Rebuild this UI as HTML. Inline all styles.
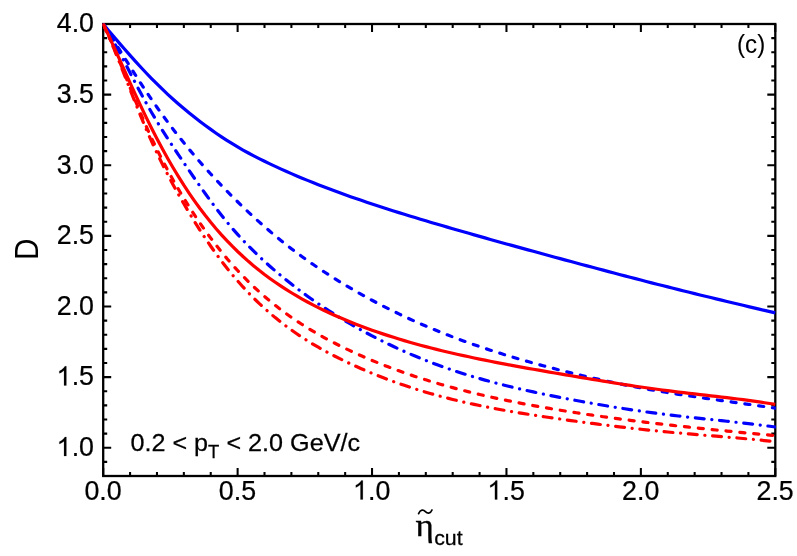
<!DOCTYPE html>
<html><head><meta charset="utf-8"><title>D vs eta cut</title>
<style>html,body{margin:0;padding:0;background:#fff;}body{width:797px;height:556px;position:relative;overflow:hidden;font-family:"Liberation Sans",sans-serif;}</style>
</head><body>
<svg width="797" height="556" viewBox="0 0 797 556" style="position:absolute;left:0;top:0;will-change:transform">
<rect width="797" height="556" fill="#fff"/>
<path d="M103.20,476.0v-8.0M103.20,24.0v8.0M130.08,476.0v-4.0M130.08,24.0v4.0M156.97,476.0v-4.0M156.97,24.0v4.0M183.85,476.0v-4.0M183.85,24.0v4.0M210.74,476.0v-4.0M210.74,24.0v4.0M237.62,476.0v-8.0M237.62,24.0v8.0M264.50,476.0v-4.0M264.50,24.0v4.0M291.39,476.0v-4.0M291.39,24.0v4.0M318.27,476.0v-4.0M318.27,24.0v4.0M345.16,476.0v-4.0M345.16,24.0v4.0M372.04,476.0v-8.0M372.04,24.0v8.0M398.92,476.0v-4.0M398.92,24.0v4.0M425.81,476.0v-4.0M425.81,24.0v4.0M452.69,476.0v-4.0M452.69,24.0v4.0M479.58,476.0v-4.0M479.58,24.0v4.0M506.46,476.0v-8.0M506.46,24.0v8.0M533.34,476.0v-4.0M533.34,24.0v4.0M560.23,476.0v-4.0M560.23,24.0v4.0M587.11,476.0v-4.0M587.11,24.0v4.0M614.00,476.0v-4.0M614.00,24.0v4.0M640.88,476.0v-8.0M640.88,24.0v8.0M667.76,476.0v-4.0M667.76,24.0v4.0M694.65,476.0v-4.0M694.65,24.0v4.0M721.53,476.0v-4.0M721.53,24.0v4.0M748.42,476.0v-4.0M748.42,24.0v4.0M775.30,476.0v-8.0M775.30,24.0v8.0M103.2,476.00h4.0M775.3,476.00h-4.0M103.2,461.88h4.0M775.3,461.88h-4.0M103.2,447.75h8.0M775.3,447.75h-8.0M103.2,433.62h4.0M775.3,433.62h-4.0M103.2,419.50h4.0M775.3,419.50h-4.0M103.2,405.38h4.0M775.3,405.38h-4.0M103.2,391.25h4.0M775.3,391.25h-4.0M103.2,377.12h8.0M775.3,377.12h-8.0M103.2,363.00h4.0M775.3,363.00h-4.0M103.2,348.87h4.0M775.3,348.87h-4.0M103.2,334.75h4.0M775.3,334.75h-4.0M103.2,320.62h4.0M775.3,320.62h-4.0M103.2,306.50h8.0M775.3,306.50h-8.0M103.2,292.37h4.0M775.3,292.37h-4.0M103.2,278.25h4.0M775.3,278.25h-4.0M103.2,264.12h4.0M775.3,264.12h-4.0M103.2,250.00h4.0M775.3,250.00h-4.0M103.2,235.88h8.0M775.3,235.88h-8.0M103.2,221.75h4.0M775.3,221.75h-4.0M103.2,207.62h4.0M775.3,207.62h-4.0M103.2,193.50h4.0M775.3,193.50h-4.0M103.2,179.37h4.0M775.3,179.37h-4.0M103.2,165.25h8.0M775.3,165.25h-8.0M103.2,151.12h4.0M775.3,151.12h-4.0M103.2,137.00h4.0M775.3,137.00h-4.0M103.2,122.88h4.0M775.3,122.88h-4.0M103.2,108.75h4.0M775.3,108.75h-4.0M103.2,94.62h8.0M775.3,94.62h-8.0M103.2,80.50h4.0M775.3,80.50h-4.0M103.2,66.37h4.0M775.3,66.37h-4.0M103.2,52.25h4.0M775.3,52.25h-4.0M103.2,38.12h4.0M775.3,38.12h-4.0M103.2,24.00h8.0M775.3,24.00h-8.0" stroke="#000" stroke-width="2.05" fill="none"/>
<rect x="103.2" y="24.0" width="672.0999999999999" height="452.0" fill="none" stroke="#000" stroke-width="2.3"/>
<clipPath id="cp"><rect x="102.60000000000001" y="23.4" width="673.3" height="453.2"/></clipPath>
<g clip-path="url(#cp)" fill="none" stroke-linejoin="round">
<path d="M103.20,24.00 L108.58,30.44 L113.95,36.81 L119.33,43.11 L124.71,49.31 L130.08,55.41 L135.46,61.42 L140.84,67.28 L146.21,73.00 L151.59,78.56 L156.97,83.97 L162.34,89.23 L167.72,94.30 L173.10,99.20 L178.48,103.95 L183.85,108.52 L189.23,112.95 L194.61,117.24 L199.98,121.41 L205.36,125.46 L210.74,129.39 L216.11,133.19 L221.49,136.84 L226.87,140.36 L232.24,143.72 L237.62,146.96 L243.00,150.05 L248.37,153.02 L253.75,155.87 L259.13,158.63 L264.50,161.29 L269.88,163.88 L275.26,166.39 L280.63,168.85 L286.01,171.25 L291.39,173.61 L296.76,175.91 L302.14,178.17 L307.52,180.38 L312.90,182.55 L318.27,184.67 L323.65,186.75 L329.03,188.80 L334.40,190.80 L339.78,192.78 L345.16,194.73 L350.53,196.64 L355.91,198.51 L361.29,200.36 L366.66,202.19 L372.04,203.98 L377.42,205.76 L382.79,207.51 L388.17,209.24 L393.55,210.94 L398.92,212.63 L404.30,214.29 L409.68,215.94 L415.05,217.58 L420.43,219.21 L425.81,220.82 L431.18,222.41 L436.56,224.00 L441.94,225.58 L447.32,227.15 L452.69,228.70 L458.07,230.25 L463.45,231.79 L468.82,233.33 L474.20,234.87 L479.58,236.38 L484.95,237.91 L490.33,239.42 L495.71,240.93 L501.08,242.43 L506.46,243.93 L511.84,245.41 L517.21,246.89 L522.59,248.38 L527.97,249.84 L533.34,251.33 L538.72,252.80 L544.10,254.25 L549.47,255.72 L554.85,257.18 L560.23,258.63 L565.60,260.09 L570.98,261.54 L576.36,262.98 L581.74,264.44 L587.11,265.88 L592.49,267.32 L597.87,268.74 L603.24,270.17 L608.62,271.60 L614.00,273.02 L619.37,274.44 L624.75,275.85 L630.13,277.26 L635.50,278.66 L640.88,280.06 L646.26,281.44 L651.63,282.83 L657.01,284.20 L662.39,285.57 L667.76,286.92 L673.14,288.28 L678.52,289.63 L683.89,290.96 L689.27,292.30 L694.65,293.63 L700.02,294.95 L705.40,296.26 L710.78,297.57 L716.16,298.87 L721.53,300.17 L726.91,301.46 L732.29,302.76 L737.66,304.04 L743.04,305.31 L748.42,306.60 L753.79,307.87 L759.17,309.13 L764.55,310.40 L769.92,311.66 L775.30,312.93" stroke="#0000ff" stroke-width="3.2"/>
<path d="M103.20,24.00 L108.58,32.36 L113.95,40.87 L119.33,49.44 L124.71,58.03 L130.08,66.60 L135.46,75.09 L140.84,83.42 L146.21,91.59 L151.59,99.53 L156.97,107.25 L162.34,114.77 L167.72,122.08 L173.10,129.20 L178.48,136.12 L183.85,142.86 L189.23,149.42 L194.61,155.80 L199.98,162.02 L205.36,168.07 L210.74,173.99 L216.11,179.78 L221.49,185.43 L226.87,190.99 L232.24,196.42 L237.62,201.75 L243.00,206.96 L248.37,212.06 L253.75,217.05 L259.13,221.92 L264.50,226.67 L269.88,231.31 L275.26,235.83 L280.63,240.23 L286.01,244.51 L291.39,248.67 L296.76,252.73 L302.14,256.68 L307.52,260.52 L312.90,264.28 L318.27,267.94 L323.65,271.51 L329.03,274.99 L334.40,278.39 L339.78,281.72 L345.16,284.97 L350.53,288.15 L355.91,291.27 L361.29,294.32 L366.66,297.30 L372.04,300.23 L377.42,303.08 L382.79,305.88 L388.17,308.60 L393.55,311.27 L398.92,313.89 L404.30,316.43 L409.68,318.93 L415.05,321.36 L420.43,323.75 L425.81,326.08 L431.18,328.34 L436.56,330.57 L441.94,332.73 L447.32,334.85 L452.69,336.93 L458.07,338.95 L463.45,340.92 L468.82,342.86 L474.20,344.74 L479.58,346.59 L484.95,348.39 L490.33,350.16 L495.71,351.88 L501.08,353.58 L506.46,355.25 L511.84,356.87 L517.21,358.47 L522.59,360.02 L527.97,361.56 L533.34,363.06 L538.72,364.54 L544.10,365.98 L549.47,367.41 L554.85,368.82 L560.23,370.19 L565.60,371.55 L570.98,372.87 L576.36,374.19 L581.74,375.47 L587.11,376.73 L592.49,377.96 L597.87,379.17 L603.24,380.36 L608.62,381.52 L614.00,382.66 L619.37,383.76 L624.75,384.85 L630.13,385.91 L635.50,386.94 L640.88,387.94 L646.26,388.93 L651.63,389.89 L657.01,390.83 L662.39,391.73 L667.76,392.62 L673.14,393.48 L678.52,394.33 L683.89,395.15 L689.27,395.95 L694.65,396.74 L700.02,397.54 L705.40,398.30 L710.78,399.06 L716.16,399.82 L721.53,400.57 L726.91,401.32 L732.29,402.07 L737.66,402.80 L743.04,403.55 L748.42,404.30 L753.79,405.06 L759.17,405.83 L764.55,406.59 L769.92,407.37 L775.30,408.16" stroke="#0000ff" stroke-width="3.2" stroke-dasharray="5.1 8.826" stroke-dashoffset="0" stroke-linecap="round"/>
<path d="M103.20,24.00 L108.58,32.76 L113.95,42.19 L119.33,52.12 L124.71,62.36 L130.08,72.76 L135.46,83.13 L140.84,93.30 L146.21,103.10 L151.59,112.48 L156.97,121.49 L162.34,130.18 L167.72,138.60 L173.10,146.80 L178.48,154.85 L183.85,162.81 L189.23,170.70 L194.61,178.51 L199.98,186.23 L205.36,193.78 L210.74,201.17 L216.11,208.35 L221.49,215.27 L226.87,221.92 L232.24,228.29 L237.62,234.39 L243.00,240.23 L248.37,245.83 L253.75,251.23 L259.13,256.41 L264.50,261.40 L269.88,266.23 L275.26,270.89 L280.63,275.41 L286.01,279.82 L291.39,284.08 L296.76,288.24 L302.14,292.26 L307.52,296.19 L312.90,299.99 L318.27,303.70 L323.65,307.31 L329.03,310.81 L334.40,314.23 L339.78,317.56 L345.16,320.81 L350.53,323.97 L355.91,327.05 L361.29,330.06 L366.66,333.00 L372.04,335.85 L377.42,338.63 L382.79,341.33 L388.17,343.97 L393.55,346.53 L398.92,349.02 L404.30,351.45 L409.68,353.79 L415.05,356.08 L420.43,358.30 L425.81,360.44 L431.18,362.52 L436.56,364.54 L441.94,366.50 L447.32,368.40 L452.69,370.23 L458.07,372.00 L463.45,373.72 L468.82,375.39 L474.20,377.00 L479.58,378.57 L484.95,380.09 L490.33,381.56 L495.71,382.99 L501.08,384.37 L506.46,385.71 L511.84,387.03 L517.21,388.30 L522.59,389.54 L527.97,390.74 L533.34,391.93 L538.72,393.07 L544.10,394.20 L549.47,395.30 L554.85,396.38 L560.23,397.44 L565.60,398.48 L570.98,399.51 L576.36,400.52 L581.74,401.50 L587.11,402.48 L592.49,403.43 L597.87,404.37 L603.24,405.28 L608.62,406.18 L614.00,407.06 L619.37,407.92 L624.75,408.75 L630.13,409.57 L635.50,410.38 L640.88,411.15 L646.26,411.90 L651.63,412.64 L657.01,413.36 L662.39,414.05 L667.76,414.73 L673.14,415.38 L678.52,416.01 L683.89,416.63 L689.27,417.23 L694.65,417.82 L700.02,418.40 L705.40,418.98 L710.78,419.56 L716.16,420.12 L721.53,420.69 L726.91,421.27 L732.29,421.84 L737.66,422.44 L743.04,423.03 L748.42,423.64 L753.79,424.27 L759.17,424.91 L764.55,425.59 L769.92,426.28 L775.30,426.99" stroke="#0000ff" stroke-width="3.2" stroke-dasharray="8.9 7.677 0.1 7.677" stroke-dashoffset="0" stroke-linecap="round"/>
<path d="M103.20,24.00 L108.58,35.57 L113.95,47.94 L119.33,60.88 L124.71,74.16 L130.08,87.58 L135.46,100.88 L140.84,113.88 L146.21,126.34 L151.59,138.16 L156.97,149.39 L162.34,160.08 L167.72,170.28 L173.10,180.01 L178.48,189.32 L183.85,198.26 L189.23,206.88 L194.61,215.15 L199.98,223.12 L205.36,230.78 L210.74,238.13 L216.11,245.18 L221.49,251.94 L226.87,258.40 L232.24,264.61 L237.62,270.52 L243.00,276.19 L248.37,281.60 L253.75,286.78 L259.13,291.74 L264.50,296.49 L269.88,301.02 L275.26,305.36 L280.63,309.52 L286.01,313.51 L291.39,317.33 L296.76,321.01 L302.14,324.52 L307.52,327.90 L312.90,331.15 L318.27,334.27 L323.65,337.28 L329.03,340.19 L334.40,342.98 L339.78,345.70 L345.16,348.32 L350.53,350.88 L355.91,353.37 L361.29,355.78 L366.66,358.13 L372.04,360.40 L377.42,362.60 L382.79,364.75 L388.17,366.84 L393.55,368.86 L398.92,370.84 L404.30,372.75 L409.68,374.60 L415.05,376.40 L420.43,378.14 L425.81,379.85 L431.18,381.50 L436.56,383.10 L441.94,384.67 L447.32,386.18 L452.69,387.66 L458.07,389.10 L463.45,390.49 L468.82,391.84 L474.20,393.17 L479.58,394.46 L484.95,395.70 L490.33,396.93 L495.71,398.10 L501.08,399.26 L506.46,400.37 L511.84,401.48 L517.21,402.54 L522.59,403.58 L527.97,404.60 L533.34,405.59 L538.72,406.55 L544.10,407.49 L549.47,408.43 L554.85,409.33 L560.23,410.21 L565.60,411.08 L570.98,411.93 L576.36,412.78 L581.74,413.60 L587.11,414.40 L592.49,415.18 L597.87,415.95 L603.24,416.72 L608.62,417.47 L614.00,418.20 L619.37,418.92 L624.75,419.63 L630.13,420.32 L635.50,421.00 L640.88,421.66 L646.26,422.32 L651.63,422.97 L657.01,423.61 L662.39,424.23 L667.76,424.84 L673.14,425.45 L678.52,426.04 L683.89,426.63 L689.27,427.21 L694.65,427.78 L700.02,428.34 L705.40,428.89 L710.78,429.44 L716.16,429.99 L721.53,430.52 L726.91,431.05 L732.29,431.58 L737.66,432.10 L743.04,432.61 L748.42,433.12 L753.79,433.61 L759.17,434.12 L764.55,434.61 L769.92,435.11 L775.30,435.60" stroke="#ff0000" stroke-width="3.2" stroke-dasharray="5.1 8.826" stroke-dashoffset="0" stroke-linecap="round"/>
<path d="M103.20,24.00 L108.58,35.96 L113.95,48.70 L119.33,62.02 L124.71,75.68 L130.08,89.46 L135.46,103.13 L140.84,116.46 L146.21,129.26 L151.59,141.44 L156.97,153.00 L162.34,164.05 L167.72,174.60 L173.10,184.70 L178.48,194.43 L183.85,203.81 L189.23,212.89 L194.61,221.69 L199.98,230.18 L205.36,238.38 L210.74,246.26 L216.11,253.81 L221.49,261.07 L226.87,268.01 L232.24,274.62 L237.62,280.93 L243.00,286.95 L248.37,292.69 L253.75,298.17 L259.13,303.38 L264.50,308.35 L269.88,313.10 L275.26,317.62 L280.63,321.92 L286.01,326.05 L291.39,329.99 L296.76,333.75 L302.14,337.35 L307.52,340.78 L312.90,344.07 L318.27,347.24 L323.65,350.26 L329.03,353.17 L334.40,355.98 L339.78,358.69 L345.16,361.32 L350.53,363.86 L355.91,366.32 L361.29,368.72 L366.66,371.04 L372.04,373.28 L377.42,375.47 L382.79,377.58 L388.17,379.63 L393.55,381.60 L398.92,383.51 L404.30,385.36 L409.68,387.15 L415.05,388.88 L420.43,390.56 L425.81,392.17 L431.18,393.72 L436.56,395.23 L441.94,396.69 L447.32,398.09 L452.69,399.43 L458.07,400.74 L463.45,402.00 L468.82,403.21 L474.20,404.39 L479.58,405.52 L484.95,406.62 L490.33,407.68 L495.71,408.71 L501.08,409.70 L506.46,410.66 L511.84,411.60 L517.21,412.51 L522.59,413.40 L527.97,414.26 L533.34,415.09 L538.72,415.93 L544.10,416.73 L549.47,417.52 L554.85,418.30 L560.23,419.06 L565.60,419.82 L570.98,420.57 L576.36,421.31 L581.74,422.03 L587.11,422.75 L592.49,423.45 L597.87,424.15 L603.24,424.84 L608.62,425.50 L614.00,426.17 L619.37,426.82 L624.75,427.45 L630.13,428.07 L635.50,428.68 L640.88,429.27 L646.26,429.85 L651.63,430.42 L657.01,430.96 L662.39,431.49 L667.76,432.01 L673.14,432.52 L678.52,433.00 L683.89,433.48 L689.27,433.95 L694.65,434.42 L700.02,434.87 L705.40,435.32 L710.78,435.76 L716.16,436.21 L721.53,436.66 L726.91,437.11 L732.29,437.57 L737.66,438.03 L743.04,438.51 L748.42,438.99 L753.79,439.50 L759.17,440.01 L764.55,440.55 L769.92,441.10 L775.30,441.68" stroke="#ff0000" stroke-width="3.2" stroke-dasharray="8.9 7.677 0.1 7.677" stroke-dashoffset="0" stroke-linecap="round"/>
<path d="M103.20,24.00 L108.58,35.40 L113.95,47.08 L119.33,58.95 L124.71,70.89 L130.08,82.83 L135.46,94.62 L140.84,106.19 L146.21,117.42 L151.59,128.27 L156.97,138.72 L162.34,148.78 L167.72,158.46 L173.10,167.75 L178.48,176.65 L183.85,185.17 L189.23,193.30 L194.61,201.07 L199.98,208.49 L205.36,215.55 L210.74,222.29 L216.11,228.71 L221.49,234.83 L226.87,240.66 L232.24,246.21 L237.62,251.50 L243.00,256.54 L248.37,261.34 L253.75,265.92 L259.13,270.30 L264.50,274.46 L269.88,278.43 L275.26,282.25 L280.63,285.89 L286.01,289.39 L291.39,292.74 L296.76,295.96 L302.14,299.06 L307.52,302.01 L312.90,304.86 L318.27,307.59 L323.65,310.21 L329.03,312.74 L334.40,315.19 L339.78,317.55 L345.16,319.82 L350.53,322.02 L355.91,324.16 L361.29,326.23 L366.66,328.24 L372.04,330.17 L377.42,332.05 L382.79,333.87 L388.17,335.64 L393.55,337.35 L398.92,339.02 L404.30,340.63 L409.68,342.18 L415.05,343.71 L420.43,345.17 L425.81,346.60 L431.18,348.00 L436.56,349.36 L441.94,350.68 L447.32,351.97 L452.69,353.23 L458.07,354.45 L463.45,355.65 L468.82,356.81 L474.20,357.97 L479.58,359.09 L484.95,360.19 L490.33,361.26 L495.71,362.32 L501.08,363.35 L506.46,364.37 L511.84,365.37 L517.21,366.36 L522.59,367.34 L527.97,368.31 L533.34,369.26 L538.72,370.20 L544.10,371.15 L549.47,372.07 L554.85,373.00 L560.23,373.92 L565.60,374.85 L570.98,375.77 L576.36,376.67 L581.74,377.59 L587.11,378.50 L592.49,379.38 L597.87,380.27 L603.24,381.16 L608.62,382.04 L614.00,382.89 L619.37,383.75 L624.75,384.58 L630.13,385.40 L635.50,386.21 L640.88,387.01 L646.26,387.79 L651.63,388.54 L657.01,389.29 L662.39,390.01 L667.76,390.70 L673.14,391.39 L678.52,392.04 L683.89,392.69 L689.27,393.33 L694.65,393.96 L700.02,394.58 L705.40,395.19 L710.78,395.81 L716.16,396.43 L721.53,397.07 L726.91,397.71 L732.29,398.35 L737.66,399.02 L743.04,399.71 L748.42,400.42 L753.79,401.15 L759.17,401.91 L764.55,402.72 L769.92,403.54 L775.30,404.41" stroke="#ff0000" stroke-width="3.2"/>
</g>
<text transform="translate(121.62,499.50) scale(0.94,1)" font-family="Liberation Sans, sans-serif" font-size="28.5" text-anchor="end" fill="#000" stroke="#000" stroke-width="0.25">0.0</text>
<text transform="translate(256.04,499.50) scale(0.94,1)" font-family="Liberation Sans, sans-serif" font-size="28.5" text-anchor="end" fill="#000" stroke="#000" stroke-width="0.25">0.5</text>
<path transform="translate(352.92,499.50) scale(0.012988,-0.012988)" d="M763 0H583V1147Q518 1085 412.5 1023Q307 961 223 930V1104Q374 1175 487 1276Q600 1377 647 1472H763Z" fill="#000" stroke="#000" stroke-width="14"/><text transform="translate(390.46,499.50) scale(0.94,1)" font-family="Liberation Sans, sans-serif" font-size="28.5" text-anchor="end" fill="#000" stroke="#000" stroke-width="0.25">.0</text>
<path transform="translate(487.34,499.50) scale(0.012988,-0.012988)" d="M763 0H583V1147Q518 1085 412.5 1023Q307 961 223 930V1104Q374 1175 487 1276Q600 1377 647 1472H763Z" fill="#000" stroke="#000" stroke-width="14"/><text transform="translate(524.88,499.50) scale(0.94,1)" font-family="Liberation Sans, sans-serif" font-size="28.5" text-anchor="end" fill="#000" stroke="#000" stroke-width="0.25">.5</text>
<text transform="translate(659.30,499.50) scale(0.94,1)" font-family="Liberation Sans, sans-serif" font-size="28.5" text-anchor="end" fill="#000" stroke="#000" stroke-width="0.25">2.0</text>
<text transform="translate(793.72,499.50) scale(0.94,1)" font-family="Liberation Sans, sans-serif" font-size="28.5" text-anchor="end" fill="#000" stroke="#000" stroke-width="0.25">2.5</text>
<path transform="translate(56.46,456.05) scale(0.012988,-0.012988)" d="M763 0H583V1147Q518 1085 412.5 1023Q307 961 223 930V1104Q374 1175 487 1276Q600 1377 647 1472H763Z" fill="#000" stroke="#000" stroke-width="14"/><text transform="translate(94.00,456.05) scale(0.94,1)" font-family="Liberation Sans, sans-serif" font-size="28.5" text-anchor="end" fill="#000" stroke="#000" stroke-width="0.25">.0</text>
<path transform="translate(56.46,385.43) scale(0.012988,-0.012988)" d="M763 0H583V1147Q518 1085 412.5 1023Q307 961 223 930V1104Q374 1175 487 1276Q600 1377 647 1472H763Z" fill="#000" stroke="#000" stroke-width="14"/><text transform="translate(94.00,385.43) scale(0.94,1)" font-family="Liberation Sans, sans-serif" font-size="28.5" text-anchor="end" fill="#000" stroke="#000" stroke-width="0.25">.5</text>
<text transform="translate(94.00,314.80) scale(0.94,1)" font-family="Liberation Sans, sans-serif" font-size="28.5" text-anchor="end" fill="#000" stroke="#000" stroke-width="0.25">2.0</text>
<text transform="translate(94.00,244.18) scale(0.94,1)" font-family="Liberation Sans, sans-serif" font-size="28.5" text-anchor="end" fill="#000" stroke="#000" stroke-width="0.25">2.5</text>
<text transform="translate(94.00,173.55) scale(0.94,1)" font-family="Liberation Sans, sans-serif" font-size="28.5" text-anchor="end" fill="#000" stroke="#000" stroke-width="0.25">3.0</text>
<text transform="translate(94.00,102.92) scale(0.94,1)" font-family="Liberation Sans, sans-serif" font-size="28.5" text-anchor="end" fill="#000" stroke="#000" stroke-width="0.25">3.5</text>
<text transform="translate(94.00,32.30) scale(0.94,1)" font-family="Liberation Sans, sans-serif" font-size="28.5" text-anchor="end" fill="#000" stroke="#000" stroke-width="0.25">4.0</text>
<text transform="translate(37.9,249.4) rotate(-90) scale(0.88,1)" font-family="Liberation Sans, sans-serif" font-size="33.7" text-anchor="middle" fill="#000">D</text>
<text transform="translate(751.10,52.60) scale(0.945,1)" font-family="Liberation Sans, sans-serif" font-size="25.5" text-anchor="middle" fill="#000" stroke="#000" stroke-width="0.1">(c)</text>
<text transform="translate(130.40,450.60) scale(1.016,1)" font-family="Liberation Sans, sans-serif" font-size="24.8" text-anchor="start" fill="#000" stroke="#000" stroke-width="0.25">0.2 &lt; p<tspan font-size="18.2" dy="6.9">T</tspan><tspan dy="-6.9"> &lt; 2.0 GeV/c</tspan></text>
<text transform="translate(415.60,536.20) scale(1.09,1)" font-family="Liberation Serif, serif" font-size="32" text-anchor="start" fill="#000" stroke="#000" stroke-width="0.35">η</text>
<text transform="translate(434.20,544.50) scale(1.04,1)" font-family="Liberation Sans, sans-serif" font-size="20.5" text-anchor="start" fill="#000" stroke="#000" stroke-width="0.25">cut</text>
<path d="M418.6,513.6 C420.5,509.2 423.5,509.6 425.4,511.6 C427.3,513.6 430.3,514.2 432.0,510.0" fill="none" stroke="#000" stroke-width="1.7" stroke-linecap="round"/>
</svg>
</body></html>
